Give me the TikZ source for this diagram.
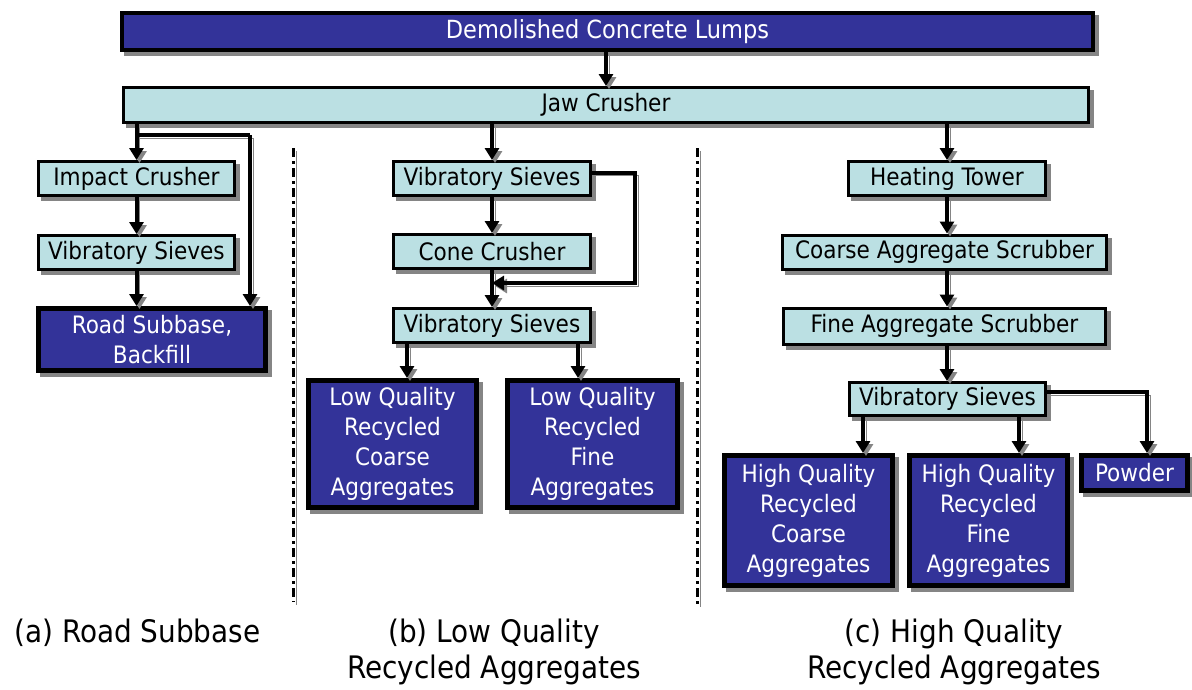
\documentclass[tikz,border=0pt]{standalone}
\usepackage{fontspec}
\setmainfont{DejaVu Sans Condensed}
\usepackage{tikz}
\usetikzlibrary{arrows.meta,shadows}

\definecolor{boxblue}{HTML}{333399}
\definecolor{boxcyan}{HTML}{BBE0E3}
\definecolor{shadegray}{HTML}{858585}

\begin{document}
\begin{tikzpicture}[x=1pt,y=-1pt,line join=miter,
  lightbox/.style={draw=black,line width=3pt,fill=boxcyan,inner sep=0pt,minimum height=34pt,
    font=\fontsize{24}{30}\selectfont,
    drop shadow={shadow xshift=4pt,shadow yshift=-4pt,fill=shadegray,draw=shadegray,opacity=1}},
  darkbox/.style={draw=black,line width=5pt,fill=boxblue,text=white,inner sep=0pt,align=center,
    font=\fontsize{24}{30}\selectfont,
    drop shadow={shadow xshift=4pt,shadow yshift=-4pt,fill=shadegray,draw=shadegray,opacity=1}},
  flow/.style={line width=4pt,-{Triangle[length=12pt,width=14pt]},
    preaction={draw=shadegray,transform canvas={shift={(3pt,-3pt)}}}},
  sepline/.style={line width=3pt,dash pattern=on 9pt off 4pt on 3pt off 4pt,
    preaction={draw=shadegray,transform canvas={shift={(3pt,-3pt)}}}},
  caption/.style={font=\fontsize{31}{36}\selectfont,align=center,inner sep=0pt,anchor=base}]
  \useasboundingbox (0,0) rectangle (1192,689);

  % common trunk
  \node[darkbox,line width=4pt,minimum width=971pt,minimum height=37pt,font=\fontsize{25}{30}\selectfont] (lumps) at (607.5,31.5) {Demolished Concrete Lumps};
  \node[lightbox,minimum width=965pt,minimum height=35pt] (jaw) at (606,105) {Jaw Crusher};

  % (a) road subbase
  \node[lightbox,minimum width=196pt] (impact) at (136.5,178.5) {Impact Crusher};
  \node[lightbox,minimum width=196pt] (sieveA) at (136.5,252.5) {Vibratory Sieves};
  \node[darkbox,minimum width=227pt,minimum height=62pt] (road) at (152,339.5) {Road Subbase,\\Backfill};

  % (b) low quality
  \node[lightbox,minimum width=197pt] (sieveB) at (492,178.5) {Vibratory Sieves};
  \node[lightbox,minimum width=197pt] (cone) at (492,251.5) {Cone Crusher};
  \node[lightbox,minimum width=197pt] (sieveBB) at (492,325.5) {Vibratory Sieves};
  \node[darkbox,minimum width=168pt,minimum height=127pt] (lqcoarse) at (392.5,444) {Low Quality\\Recycled\\Coarse\\Aggregates};
  \node[darkbox,minimum width=170pt,minimum height=127pt] (lqfine) at (592.5,444) {Low Quality\\Recycled\\Fine\\Aggregates};

  % (c) high quality
  \node[lightbox,minimum width=197pt] (heat) at (947,178.5) {Heating Tower};
  \node[lightbox,minimum width=324pt] (cscrub) at (944.5,252) {Coarse Aggregate Scrubber};
  \node[lightbox,minimum width=322pt,minimum height=36pt] (fscrub) at (944.5,326) {Fine Aggregate Scrubber};
  \node[lightbox,minimum width=196pt,minimum height=33pt] (sieveC) at (947.5,399) {Vibratory Sieves};
  \node[darkbox,minimum width=168pt,minimum height=130pt] (hqcoarse) at (808.5,520.5) {High Quality\\Recycled\\Coarse\\Aggregates};
  \node[darkbox,minimum width=158pt,minimum height=130pt] (hqfine) at (988.5,520.5) {High Quality\\Recycled\\Fine\\Aggregates};
  \node[darkbox,minimum width=106pt,minimum height=35pt] (powder) at (1134.5,473) {Powder};

  % bends and entry points
  \coordinate (abend) at (250,135);
  \coordinate (bbend) at (635,283);
  \coordinate (lqcin) at (407,378);
  \coordinate (lqfin) at (578,378);
  \coordinate (hqcin) at (863,453);
  \coordinate (hqfin) at (1019,453);
  \coordinate (powin) at (1147,453);

  % connectors
  \draw[flow] (jaw.north |- lumps.south) -- (jaw.north);
  \draw[flow] (jaw.south -| impact.north) -- (impact.north);
  \draw[line width=4pt,preaction={draw=shadegray,transform canvas={shift={(3pt,-3pt)}}}] (jaw.south -| impact.north) |- (abend);
  \draw[flow] (abend) -- (abend |- road.north);
  \draw[flow] (impact.south) -- (sieveA.north);
  \draw[flow] (sieveA.south) -- (sieveA.south |- road.north);

  \draw[flow] (jaw.south -| sieveB.north) -- (sieveB.north);
  \draw[flow] (sieveB.south) -- (cone.north);
  \draw[flow] (cone.south) -- (sieveBB.north);
  \draw[flow] ([yshift=6pt]sieveB.east) -| (bbend) -- (bbend -| cone.south);
  \draw[flow] (sieveBB.south -| lqcin) -- (lqcin);
  \draw[flow] (sieveBB.south -| lqfin) -- (lqfin);

  \draw[flow] (jaw.south -| heat.north) -- (heat.north);
  \draw[flow] (heat.south) -- (heat.south |- cscrub.north);
  \draw[flow] (heat.south |- cscrub.south) -- (heat.south |- fscrub.north);
  \draw[flow] (heat.south |- fscrub.south) -- (heat.south |- sieveC.north);
  \draw[flow] (sieveC.south -| hqcin) -- (hqcin);
  \draw[flow] (sieveC.south -| hqfin) -- (hqfin);
  \draw[flow] ([yshift=7pt]sieveC.east) -| (powin);

  % separators
  \coordinate (sepAtop) at (293,148);
  \coordinate (sepAbot) at (293,602);
  \coordinate (sepBtop) at (697,148);
  \coordinate (sepBbot) at (697,604);
  \draw[sepline] (sepAtop) -- (sepAbot);
  \draw[sepline] (sepBtop) -- (sepBbot);

  % captions
  \node[caption] (capa) at (137.5,642) {(a) Road Subbase};
  \node[caption] (capb) at (494,678) {(b) Low Quality\\Recycled Aggregates};
  \node[caption] (capc) at (954,678) {(c) High Quality\\Recycled Aggregates};
\end{tikzpicture}
\end{document}
